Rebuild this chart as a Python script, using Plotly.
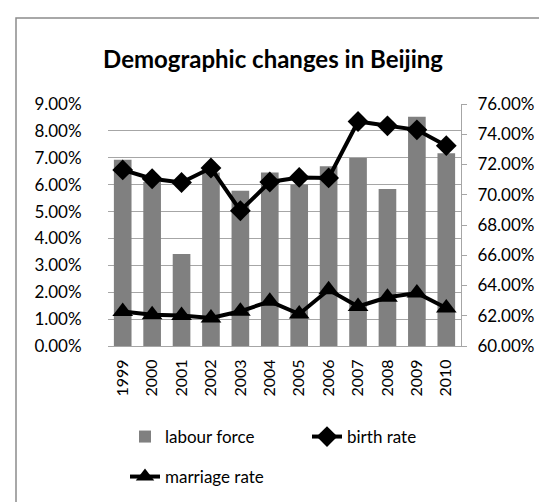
import plotly.graph_objects as go

years = ["1999", "2000", "2001", "2002", "2003", "2004", "2005", "2006", "2007", "2008", "2009", "2010"]
labour_force = [0.7232, 0.7084, 0.6608, 0.7147, 0.7026, 0.7147, 0.7067, 0.7188, 0.7243, 0.7038, 0.7516, 0.7275]
birth_rate = [0.0655, 0.0622, 0.0608, 0.0662, 0.0503, 0.0610, 0.0627, 0.0625, 0.0835, 0.0819, 0.0804, 0.0745]
marriage_rate = [0.0128, 0.0116, 0.0113, 0.0104, 0.0129, 0.0166, 0.0119, 0.0209, 0.0147, 0.0181, 0.0197, 0.0141]

left_ticks = [i / 100 for i in range(0, 10)]
right_ticks = [0.60 + 0.02 * i for i in range(0, 9)]

FONT = "Lato"
grid = "#A6A6A6"

fig = go.Figure()
fig.add_trace(go.Bar(x=years, y=labour_force, name="labour force", marker_color="#808080",
                     marker_line_width=0, yaxis="y", legend="legend"))
fig.add_trace(go.Scatter(x=years, y=birth_rate, name="birth rate", mode="lines+markers",
                         line=dict(color="black", width=4),
                         marker=dict(symbol="diamond", size=16, color="black"), yaxis="y2",
                         legend="legend2"))
fig.add_trace(go.Scatter(x=years, y=marriage_rate, name="marriage rate", mode="lines+markers",
                         line=dict(color="black", width=4),
                         marker=dict(symbol="triangle-up", size=18, color="black"), yaxis="y2",
                         legend="legend3"))

L, R, T, B = 100, 94, 96, 164
W, H = 547, 502
pw, ph = W - L - R, H - T - B

def px_x(x):
    return (x - L) / pw

def px_y(y):
    return (H - B - y) / ph

legfont = dict(family=FONT, size=17)

def leg(x, y):
    return dict(orientation="h", xref="container", yref="container", x=x / W, xanchor="left",
                y=1 - y / H, yanchor="middle", font=legfont, itemclick=False,
                bgcolor="rgba(0,0,0,0)")

fig.update_layout(
    width=W, height=H,
    margin=dict(l=L, r=R, t=T, b=B, autoexpand=False),
    paper_bgcolor="white", plot_bgcolor="white",
    font=dict(family=FONT, size=17, color="black"),
    title=dict(text="<b>Demographic changes in Beijing</b>", x=265 / W, xanchor="center",
               y=1 - 52 / H, yanchor="middle", font=dict(family=FONT, size=24, color="black")),
    bargap=0.4,
    showlegend=True,
    legend=leg(117, 429),
    legend2=leg(299, 429),
    legend3=leg(117, 469),
    xaxis=dict(type="category", range=[-0.5, len(years) - 0.5], autorange=False,
               tickangle=-90, showgrid=False, showline=True, linecolor=grid,
               linewidth=1, ticks="", tickfont=dict(size=16), ticklabelstandoff=6),
    yaxis=dict(side="right", range=[0.60, 0.76], tickvals=right_ticks, tickformat=".2%",
               showgrid=False, showline=True, linecolor=grid, linewidth=1, ticks="outside",
               ticklen=5, tickcolor=grid, tickfont=dict(size=17), zeroline=False,
               ticklabelstandoff=7),
    yaxis2=dict(side="left", overlaying="y", range=[0, 0.09], tickvals=left_ticks,
                tickformat=".2%", showgrid=True, gridcolor=grid, gridwidth=1, showline=False,
                ticks="outside", ticklen=14, tickcolor="rgba(0,0,0,0)", tickfont=dict(size=17),
                zeroline=False, ticklabelstandoff=8),
    shapes=[dict(type="rect", xref="paper", yref="paper", x0=px_x(8), x1=px_x(560),
                 y0=px_y(520), y1=px_y(10), line=dict(color="#8C8C8C", width=1.5),
                 fillcolor="rgba(0,0,0,0)", layer="below")],
)

fig.write_html("out.html")
